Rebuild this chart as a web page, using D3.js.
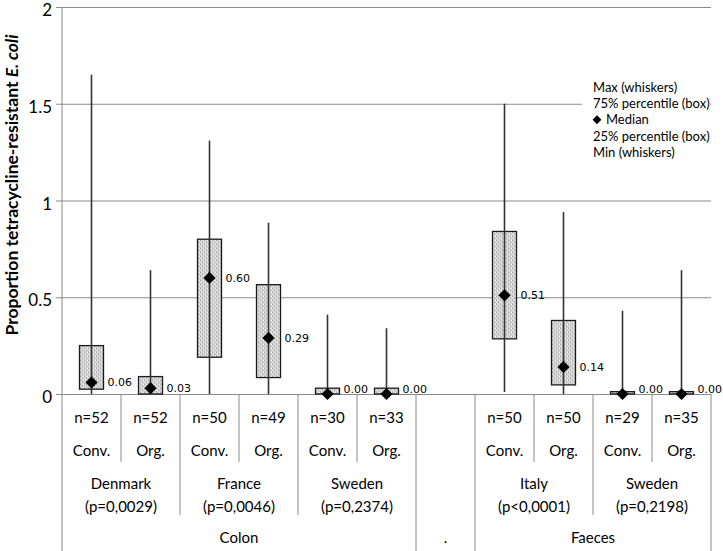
<!DOCTYPE html>
<html>
<head>
<meta charset="utf-8">
<script src="https://cdn.jsdelivr.net/npm/d3@7"></script>
<style>
  html, body { margin: 0; padding: 0; background: #fff; }
  svg { display: block; }
</style>
</head>
<body>
<svg id="chart" width="723" height="551"></svg>
<script>
// ---- Data ----
const conditions = ["Conv.", "Org.", "Conv.", "Org.", "Conv.", "Org.", "", "Conv.", "Org.", "Conv.", "Org."];
const nLabels    = ["n=52", "n=52", "n=50", "n=49", "n=30", "n=33", "", "n=50", "n=50", "n=29", "n=35"];
const maxVals    = [1.65, 0.64, 1.31, 0.885, 0.41, 0.34, null, 1.50, 0.94, 0.43, 0.64];
const q3Vals     = [0.25, 0.09, 0.80, 0.565, 0.03, 0.03, null, 0.84, 0.38, 0.012, 0.012];
const medianVals = [0.06, 0.03, 0.60, 0.29, 0.00, 0.00, null, 0.51, 0.14, 0.00, 0.00];
const q1Vals     = [0.025, 0.0, 0.19, 0.085, 0.0, 0.0, null, 0.285, 0.047, 0.0, 0.0];
const minVals    = [0.0, 0.0, 0.0, 0.0, 0.0, 0.0, null, 0.01, 0.0, 0.0, 0.0];
const countryNames  = ["Denmark", "France", "Sweden", "Italy", "Sweden"];
const countryPvals  = ["(p=0,0029)", "(p=0,0046)", "(p=0,2374)", "(p<0,0001)", "(p=0,2198)"];
const countryStarts = [0, 2, 4, 7, 9];
const countryEnds   = [2, 4, 6, 9, 11];
const groupNames  = ["Colon", ".", "Faeces"];
const groupStarts = [0, 6, 7];
const groupEnds   = [6, 7, 11];
const yTicks = [0, 0.5, 1, 1.5, 2];
const yTickLabels = ["0", "0.5", "1", "1.5", "2"];
const legendLines = ["Max (whiskers)", "75% percentile (box)", "Median", "25% percentile (box)", "Min (whiskers)"];

// ---- Layout ----
const svg = d3.select("#chart");
const W = 723, H = 551;
const plotL = 62, plotR = 711, plotT = 7, zeroY = 394;
const gridColor = "#8a8a8a";
const labelFont = "Lato, 'Open Sans', sans-serif";

const x = d3.scaleBand().domain(d3.range(conditions.length)).range([plotL, plotR]).padding(0);
const y = d3.scaleLinear().domain([0, 2]).range([zeroY, plotT]);

// pattern fill
const defs = svg.append("defs");
const pat = defs.append("pattern").attr("id", "dots").attr("width", 4).attr("height", 4)
  .attr("patternUnits", "userSpaceOnUse");
pat.append("rect").attr("width", 4).attr("height", 4).attr("fill", "#d6d6d6");
[[0,0,"#a9a9a9"],[2,2,"#a9a9a9"],[1,2,"#f2f2f2"],[3,0,"#f2f2f2"],[2,1,"#bdbdbd"],[0,3,"#bdbdbd"]].forEach(([px,py,c]) =>
  pat.append("rect").attr("x", px).attr("y", py).attr("width", 1).attr("height", 1).attr("fill", c));

// gridlines
const yAxis = d3.axisLeft(y).tickValues(yTicks).tickFormat((d, i) => yTickLabels[i])
  .tickSize(-(plotR - plotL)).tickSizeOuter(0).tickPadding(10);
const gy = svg.append("g").attr("transform", `translate(${plotL},0)`).call(yAxis);
gy.select(".domain").remove();
gy.selectAll(".tick line").attr("stroke", gridColor).attr("stroke-width", 1).attr("x1", -6).attr("x2", plotR - plotL);
gy.selectAll(".tick text").attr("font-family", labelFont).attr("font-size", 17).attr("fill", "#000")
  .attr("dy", "0.5em");

// y axis line (extends to bottom)
svg.append("line").attr("x1", plotL).attr("x2", plotL).attr("y1", plotT).attr("y2", H)
  .attr("stroke", gridColor).attr("stroke-width", 1);

// y label
const yl = svg.append("text")
  .attr("transform", `translate(18,185) rotate(-90)`)
  .attr("text-anchor", "middle").attr("font-family", labelFont).attr("font-size", 17.5)
  .attr("font-weight", "bold").attr("fill", "#000");
yl.append("tspan").text("Proportion tetracycline-resistant ");
yl.append("tspan").attr("font-style", "italic").text("E. coli");

// legend background + text
const lg = svg.append("g");
lg.append("rect").attr("x", 582).attr("y", 77).attr("width", 128).attr("height", 85).attr("fill", "#fff");
legendLines.forEach((t, i) => {
  const ly = 87 + i * 16.4;
  const isMed = t === "Median";
  lg.append("text").attr("x", isMed ? 606 : 593).attr("y", ly).attr("dy", "0.35em")
    .attr("font-family", labelFont).attr("font-size", 13).attr("fill", "#000").text(t);
  if (isMed) {
    lg.append("path").attr("d", d3.symbol(d3.symbolDiamond2, 50)())
      .attr("transform", `translate(597,${ly})`).attr("fill", "#000");
  }
});

// boxes
const idx = d3.range(conditions.length).filter(i => maxVals[i] !== null);
const cx = i => x(i) + x.bandwidth() / 2;
const boxW = 24;
svg.append("g").selectAll("rect").data(idx).join("rect")
  .attr("x", i => cx(i) - boxW / 2).attr("width", boxW)
  .attr("y", i => y(q3Vals[i])).attr("height", i => Math.max(y(q1Vals[i]) - y(q3Vals[i]), 1))
  .attr("fill", "url(#dots)").attr("stroke", "#1a1a1a").attr("stroke-width", 1.3);

// whiskers
svg.append("g").selectAll("line").data(idx).join("line")
  .attr("x1", cx).attr("x2", cx)
  .attr("y1", i => y(maxVals[i])).attr("y2", i => y(minVals[i]))
  .attr("stroke", "#333").attr("stroke-width", 1.6);

// median diamonds
svg.append("g").selectAll("path").data(idx).join("path")
  .attr("d", d3.symbol(d3.symbolDiamond2, 95)())
  .attr("transform", i => `translate(${cx(i)},${y(medianVals[i])})`)
  .attr("fill", "#000");

// median labels
svg.append("g").selectAll("text").data(idx).join("text")
  .attr("x", i => cx(i) + 16).attr("y", i => Math.min(y(medianVals[i]), zeroY - 5))
  .attr("dy", "0.35em").attr("font-family", "'DejaVu Sans', sans-serif").attr("font-size", 11)
  .attr("fill", "#000").text(i => medianVals[i].toFixed(2));

// ---- bottom categorical axis ----
const bAxis = svg.append("g");
const groupBounds = new Set([...groupStarts, ...groupEnds]);
const countryBounds = new Set([...countryStarts, ...countryEnds]);
d3.range(conditions.length + 1).forEach(b => {
  const bx = b === conditions.length ? plotR : x(b);
  let y2 = 462;
  if (groupBounds.has(b)) y2 = H;
  else if (countryBounds.has(b)) y2 = 515;
  if (b === 0) return;
  bAxis.append("line").attr("x1", bx).attr("x2", bx).attr("y1", zeroY).attr("y2", y2)
    .attr("stroke", gridColor).attr("stroke-width", 1);
});
const txt = (tx, ty, t) => bAxis.append("text").attr("x", tx).attr("y", ty).attr("dy", "0.35em")
  .attr("text-anchor", "middle").attr("font-family", labelFont).attr("font-size", 15)
  .attr("fill", "#000").text(t);
conditions.forEach((c, i) => {
  if (nLabels[i]) txt(cx(i), 418, nLabels[i]);
  if (c) txt(cx(i), 451, c);
});
const spanX = (s, e) => (x(s) + (e === conditions.length ? plotR : x(e))) / 2;
countryNames.forEach((n, k) => {
  const mx = spanX(countryStarts[k], countryEnds[k]);
  txt(mx, 484, n);
  txt(mx, 507, countryPvals[k]);
});
groupNames.forEach((g, k) => {
  txt(spanX(groupStarts[k], groupEnds[k]), 538, g);
});
</script>
</body>
</html>
